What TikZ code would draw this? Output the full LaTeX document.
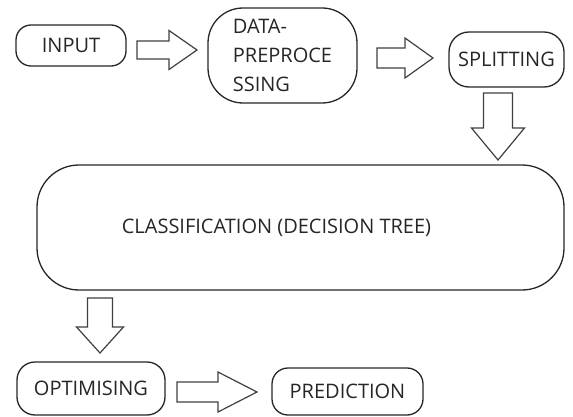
\documentclass[tikz,border=0pt]{standalone}
\usepackage{fontspec}
\setmainfont{Open Sans}
\usetikzlibrary{calc}
\def\blockarrow(#1)(#2)(#3:#4:#5){%
	\path ($(#2)!#5!(#1)$) coordinate (hb);
	\draw[bigarrow] ($(#1)!#3!90:(#2)$) -- ($(hb)!#3!90:(#2)$) -- ($(hb)!#4!90:(#2)$) -- (#2)
		-- ($(hb)!#4!-90:(#2)$) -- ($(hb)!#3!-90:(#2)$) -- ($(#1)!#3!-90:(#2)$) -- cycle;}

\begin{document}
\begin{tikzpicture}[x=1pt, y=-1pt,
	box/.style={draw=black!85, line width=1.3pt, inner sep=0pt, font=\fontsize{20}{29}\selectfont, text=black!85},
	bigarrow/.style={draw=black!75, line width=1.2pt, fill=white}]
			%%%%% START %%%%%
			
			\useasboundingbox (0, 0) rectangle (573, 417);
			
			\node[box, rounded corners=15pt, minimum width=110pt, minimum height=41pt] (input) at (71, 45.5) {INPUT};
			\node[box, rounded corners=35pt, minimum width=149pt, minimum height=95pt, align=left] (prep) at (282.5, 55.5) {DATA-\\PREPROCE\\SSING};
			\node[box, rounded corners=20pt, minimum width=115pt, minimum height=55pt] (split) at (506.5, 59.5) {SPLITTING};
			
			\node[box, rounded corners=42pt, minimum width=527pt, minimum height=125pt] (class) at (300.5, 227.5) {CLASSIFICATION (DECISION TREE)\hspace*{48pt}};
			
			\node[box, rounded corners=18pt, minimum width=148pt, minimum height=53pt] (optim) at (91, 388.5) {OPTIMISING};
			\node[box, rounded corners=16pt, minimum width=151pt, minimum height=47pt] (pred) at (347.5, 391.5) {PREDICTION};
			
			\coordinate (a1t) at (137, 50);
			\coordinate (a1h) at (197, 50);
			\coordinate (a2t) at (377, 58);
			\coordinate (a2h) at (433, 58);
			\coordinate (a3t) at (498, 93);
			\coordinate (a3h) at (498, 160);
			\coordinate (a4t) at (100, 298);
			\coordinate (a4h) at (100, 353);
			\coordinate (a5t) at (177, 392);
			\coordinate (a5h) at (257, 392);
			
			\blockarrow(a1t)(a1h)(9pt:19.5pt:28pt);
			\blockarrow(a2t)(a2h)(10pt:20pt:28pt);
			\blockarrow(a3t)(a3h)(14.5pt:26.5pt:32pt);
			\blockarrow(a4t)(a4h)(12.5pt:23.5pt:26pt);
			\blockarrow(a5t)(a5h)(10pt:20pt:39pt);
			
			%%%%% END %%%%%
\end{tikzpicture}
\end{document}
